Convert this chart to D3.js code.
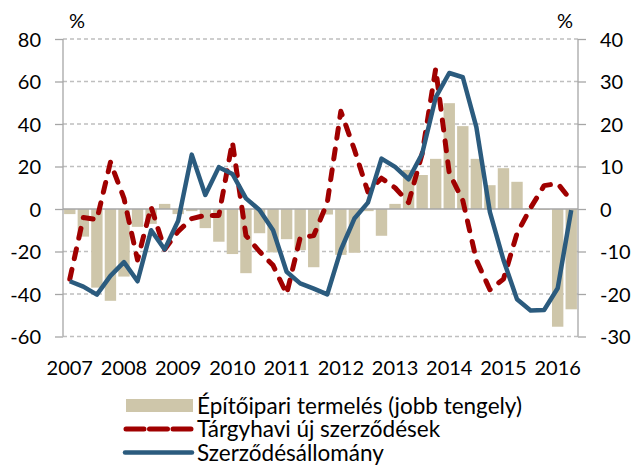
<!DOCTYPE html>
<html><head><meta charset="utf-8">
<script src="https://cdn.jsdelivr.net/npm/d3@7"></script>
<style>
body{margin:0;background:#fff}
svg{display:block}
text{font-family:Lato,"Noto Sans",sans-serif;fill:#000}
</style>
</head><body>
<svg id="chart" width="634" height="472"></svg>
<script>
const quarters = [
 "2007Q1","2007Q2","2007Q3","2007Q4","2008Q1","2008Q2","2008Q3","2008Q4",
 "2009Q1","2009Q2","2009Q3","2009Q4","2010Q1","2010Q2","2010Q3","2010Q4",
 "2011Q1","2011Q2","2011Q3","2011Q4","2012Q1","2012Q2","2012Q3","2012Q4",
 "2013Q1","2013Q2","2013Q3","2013Q4","2014Q1","2014Q2","2014Q3","2014Q4",
 "2015Q1","2015Q2","2015Q3","2015Q4","2016Q1","2016Q2"];
const yearLabels = ["2007","2008","2009","2010","2011","2012","2013","2014","2015","2016"];
// Építőipari termelés (jobb tengely)
const construction = [-1.2,-6.5,-18.5,-21.6,-15.9,-4.2,-3.5,1.2,-1.2,-0.5,
 -4.5,-7.7,-10.6,-15.1,-5.7,-10.2,-7.1,-9.7,-13.7,-1.3,
 -10.8,-10.3,-0.5,-6.3,1.2,9.2,8.0,11.8,24.9,19.5,
 11.8,5.6,9.6,6.4,0.2,-0.2,-27.7,-23.6];
// Tárgyhavi új szerződések
const newContracts = [-33,-4,-5,22,5,-24,1,-19,-10.5,-4.5,
 -3,-3,31.5,-12.5,-20,-26.5,-40,-13.5,-12.5,3,
 46,28,8,14.5,10,3,26,66,17,4,
 -24,-38,-33,-11.5,0.5,11,12,4];
// Szerződésállomány
const contractStock = [-34,-36.5,-40.3,-31.5,-25,-34,-10,-19,-5.5,25.6,
 6.6,19.7,16.5,5,-0.5,-10,-29.5,-35,-37.5,-40.2,
 -19.3,-4.5,3,23.7,19.8,14,26,52.5,64,62,
 38.5,-1.5,-24,-42.5,-47.8,-47.5,-37.3,-0.5];
const leftTicks = [-60,-40,-20,0,20,40,60,80];
const rightTicks = [-30,-20,-10,0,10,20,30,40];
const seriesNames = ["Építőipari termelés (jobb tengely)","Tárgyhavi új szerződések","Szerződésállomány"];
const unitLabel = "%";

const C = {bar:"#CEC6AA", red:"#A00000", blue:"#2B5B7E", grid:"#BFBFBF", axis:"#A6A6A6"};
const L = 63, R = 578, T = 39, B = 336.5;

const svg = d3.select("#chart");
const x = d3.scaleBand().domain(quarters).range([L, R]).paddingInner(0.16).paddingOuter(0.08);
const yL = d3.scaleLinear().domain([-60, 80]).range([B, T]);
const yR = d3.scaleLinear().domain([-30, 40]).range([B, T]);
const cx = q => x(q) + x.bandwidth() / 2;
const fmt = d => String(d);

// grid
svg.append("g").selectAll("line").data(leftTicks.filter(v => v !== 0)).join("line")
  .attr("x1", L).attr("x2", R).attr("y1", d => yL(d)).attr("y2", d => yL(d))
  .attr("stroke", C.grid).attr("stroke-width", 1.3).attr("stroke-dasharray", "4,3");

// bars
svg.append("g").selectAll("rect").data(construction).join("rect")
  .attr("x", (d, i) => x(quarters[i])).attr("width", x.bandwidth())
  .attr("y", d => Math.min(yR(d), yR(0))).attr("height", d => Math.abs(yR(d) - yR(0)))
  .attr("fill", C.bar);

// zero line
svg.append("line").attr("x1", L).attr("x2", R).attr("y1", yL(0)).attr("y2", yL(0))
  .attr("stroke", C.axis).attr("stroke-width", 1.3);

// axes
const axL = d3.axisLeft(yL).tickValues(leftTicks).tickFormat(fmt).tickSize(8).tickPadding(14);
const gL = svg.append("g").attr("transform", `translate(${L},0)`).call(axL);
const axR = d3.axisRight(yR).tickValues(rightTicks).tickFormat(fmt).tickSize(8).tickPadding(14);
const gR = svg.append("g").attr("transform", `translate(${R},0)`).call(axR);
[gL, gR].forEach(g => {
  g.select(".domain").remove();
  g.selectAll(".tick line").attr("stroke", C.axis).attr("stroke-width", 1.3);
  g.selectAll(".tick text").attr("font-size", 20).attr("font-family", "Lato").attr("fill", "#000").attr("dy", "0.35em");
});
svg.append("line").attr("x1", L).attr("x2", L).attr("y1", T).attr("y2", B).attr("stroke", C.axis).attr("stroke-width", 1.3);
svg.append("line").attr("x1", R).attr("x2", R).attr("y1", T).attr("y2", B).attr("stroke", C.axis).attr("stroke-width", 1.3);

// x labels
const xAxis = d3.axisBottom(x).tickValues(yearLabels.map(y => y + "Q1")).tickFormat(q => q.slice(0, 4)).tickSize(0).tickPadding(0);
const gX = svg.append("g").attr("transform", `translate(0,${B})`).call(xAxis);
gX.select(".domain").remove();
gX.selectAll(".tick text").attr("font-size", 20).attr("font-family", "Lato").attr("fill", "#000").attr("dy", null).attr("y", 38);

// unit labels
svg.append("text").attr("x", 77).attr("y", 28).attr("text-anchor", "middle").attr("font-size", 20).text(unitLabel);
svg.append("text").attr("x", 565).attr("y", 28).attr("text-anchor", "middle").attr("font-size", 20).text(unitLabel);

// lines
const lineL = d3.line().x((d, i) => cx(quarters[i])).y(d => yL(d));
svg.append("path").datum(newContracts).attr("d", lineL).attr("fill", "none")
  .attr("stroke", C.red).attr("stroke-width", 5).attr("stroke-dasharray", "10,11")
  .attr("stroke-linecap", "round").attr("stroke-linejoin", "round");
svg.append("path").datum(contractStock).attr("d", lineL).attr("fill", "none")
  .attr("stroke", C.blue).attr("stroke-width", 4.5).attr("stroke-linejoin", "round");

// legend
const lg = svg.append("g");
const rowY = [405.5, 429, 452.5];
lg.append("rect").attr("x", 126).attr("y", rowY[0] - 6.5).attr("width", 67).attr("height", 13).attr("fill", C.bar);
lg.append("line").attr("x1", 126).attr("x2", 191).attr("y1", rowY[1]).attr("y2", rowY[1])
  .attr("stroke", C.red).attr("stroke-width", 5).attr("stroke-dasharray", "18,5.5").attr("stroke-linecap", "round");
lg.append("line").attr("x1", 125).attr("x2", 192).attr("y1", rowY[2]).attr("y2", rowY[2])
  .attr("stroke", C.blue).attr("stroke-width", 4.5).attr("stroke-linecap", "round");
lg.selectAll("text").data(seriesNames).join("text")
  .attr("x", 197).attr("y", (d, i) => rowY[i]).attr("dy", "0.36em").attr("font-size", 22.5).text(d => d);
</script>
</body></html>
